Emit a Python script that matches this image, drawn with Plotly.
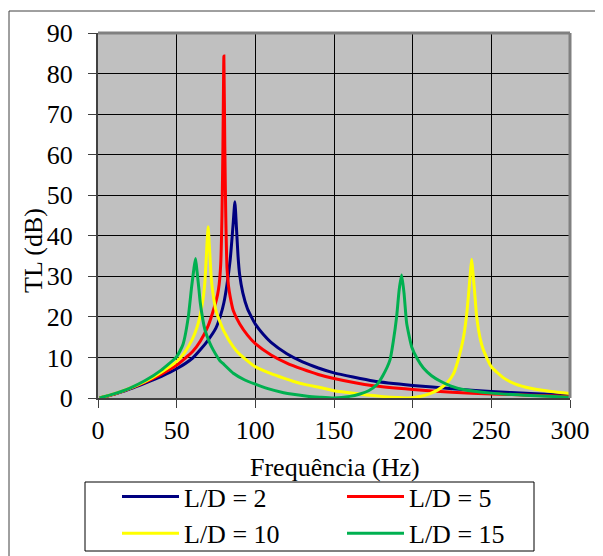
import plotly.graph_objects as go

# ---- data ----
series_names = ["L/D = 2", "L/D = 5", "L/D = 10", "L/D = 15"]
series_colors = ["#000080", "#FF0000", "#FFFF00", "#00B050"]

f_ld2 = [1, 10, 20, 30, 40, 50, 60, 65, 70, 75, 78, 80, 82, 84, 85, 86, 87, 88, 89, 90,
         92, 95, 97.5, 100, 105, 110, 120, 130, 140, 150, 175, 200, 225, 250, 275, 300]
tl_ld2 = [0, 0.9, 2.2, 3.7, 5.3, 7.2, 9.8, 11.9, 14.3, 17.3, 20.5, 23.5, 28, 34, 38.5, 43.5, 48.4, 42, 35, 30.5,
          26, 22, 20, 18.2, 15.7, 13.7, 10.9, 8.9, 7.4, 6.2, 4.2, 3.1, 2.3, 1.6, 1.1, 0.7]

f_ld5 = [1, 10, 20, 30, 40, 50, 60, 65, 70, 74, 76, 77, 78, 78.8, 79.4, 80, 80.6, 81.2, 82, 83,
         84, 86, 90, 95, 100, 110, 120, 130, 140, 150, 175, 200, 225, 250, 275, 300]
tl_ld5 = [0, 0.9, 2.3, 3.9, 5.8, 8.1, 11.4, 14, 17.8, 22.5, 25.5, 28, 33, 45, 62, 84.3, 62, 45, 32, 27.5,
          25, 21.5, 18.3, 15.5, 13.4, 10.6, 8.6, 7.1, 5.8, 4.8, 3.0, 2.1, 1.4, 1.0, 0.7, 0.4]

f_ld10 = [1, 10, 20, 30, 40, 50, 55, 60, 63, 65, 67, 68, 69, 70, 71, 72, 73, 75, 78, 80,
          86, 90, 100, 110, 118, 125, 132, 141, 150, 166, 180, 190, 197, 204, 211, 216, 222, 226, 229, 232,
          234, 235.5, 236.7, 237.5, 238.3, 239.3, 240.7, 243, 245, 250, 258, 265, 275, 288, 300]
tl_ld10 = [0, 1.0, 2.4, 4.1, 6.3, 9.0, 11.2, 14.5, 17.5, 20.5, 25, 29, 36, 42.2, 36, 29.5, 26, 21.5, 18.3, 16.5,
           12.6, 10.8, 7.7, 6.0, 4.9, 4.0, 3.3, 2.6, 1.8, 1.0, 0.4, 0.15, 0.0, 0.3, 1.1, 2.0, 3.8, 6.0, 9.5, 14.3,
           19.5, 25.5, 31, 34.2, 31, 26.5, 20, 14.5, 11.8, 7.7, 4.9, 3.5, 2.4, 1.6, 1.1]

f_ld15 = [1, 10, 20, 30, 40, 50, 54, 57.4, 59.5, 61, 62, 63, 64.2, 65, 68, 71, 73.3, 77.5, 80, 86,
          93, 100, 108, 118, 124, 133, 141, 150, 160, 166.5, 172, 177, 181, 185.6, 187.7, 189.8, 191.4, 193, 194.5, 196.2,
          199.4, 203, 206.8, 212, 217.4, 224, 232, 250, 275, 300]
tl_ld15 = [0, 1.0, 2.4, 4.3, 6.8, 10.2, 13.2, 20, 27.4, 32, 34.4, 31, 26.6, 23.5, 16.8, 13.6, 11.8, 9.2, 8.3, 6.1,
           4.5, 3.4, 2.3, 1.3, 0.9, 0.45, 0.2, 0.0, 0.4, 1.0, 1.8, 3.2, 5.5, 9.4, 14, 20, 26.6, 30.3, 25.9, 18.4,
           12.6, 9.6, 7.4, 5.5, 4.2, 3.0, 2.1, 1.2, 0.6, 0.2]

x_ticks = [0, 50, 100, 150, 200, 250, 300]
y_ticks = [0, 10, 20, 30, 40, 50, 60, 70, 80, 90]

all_f = [f_ld2, f_ld5, f_ld10, f_ld15]
all_tl = [tl_ld2, tl_ld5, tl_ld10, tl_ld15]

FONT = "Liberation Serif"

fig = go.Figure()
for name, color, fx, ty in zip(series_names, series_colors, all_f, all_tl):
    fig.add_trace(go.Scatter(x=fx, y=ty, mode="lines", name=name,
                             line=dict(color=color, width=3, shape="spline", smoothing=0.5)))

W, H = 603, 556
OFF = 8  # page body margin
L, T = 90, 25
R, B = W - 562, H - 390
pw, ph = W - L - R, H - T - B


def px(sx):
    return (sx - OFF - L) / pw


def py(sy):
    return (H - B - (sy - OFF)) / ph


fig.update_layout(
    width=W, height=H,
    margin=dict(l=L, r=R, t=T, b=B, autoexpand=False),
    paper_bgcolor="white",
    plot_bgcolor="#C0C0C0",
    font=dict(family=FONT, size=26, color="black"),
    showlegend=True,
    legend=dict(
        orientation="h", x=px(117), y=py(473), xanchor="left", yanchor="top",
        bgcolor="rgba(0,0,0,0)", borderwidth=0,
        entrywidth=153, entrywidthmode="pixels", itemwidth=57,
        font=dict(family=FONT, size=26, color="black"),
        traceorder="normal",
    ),
    xaxis=dict(range=[0, 300], tickvals=x_ticks, ticktext=[str(v) for v in x_ticks],
               showgrid=True, gridcolor="black", gridwidth=1,
               showline=True, linecolor="#404040", linewidth=2,
               ticks="outside", ticklen=8, tickcolor="#404040", tickwidth=1,
               ticklabelstandoff=0, zeroline=False,
               tickfont=dict(family=FONT, size=26)),
    yaxis=dict(range=[0, 90], tickvals=y_ticks, ticktext=[str(v) for v in y_ticks],
               showgrid=True, gridcolor="black", gridwidth=1,
               showline=True, linecolor="#404040", linewidth=2,
               ticks="outside", ticklen=8, tickcolor="#404040", tickwidth=1,
               ticklabelstandoff=10, zeroline=False,
               tickfont=dict(family=FONT, size=26)),
    annotations=[
        dict(text="TL (dB)", xref="paper", yref="paper", x=px(33), y=py(251),
             textangle=-90, showarrow=False, xanchor="center", yanchor="middle",
             font=dict(family=FONT, size=26)),
        dict(text="Frequência (Hz)", xref="paper", yref="paper", x=px(335), y=py(467),
             showarrow=False, xanchor="center", yanchor="middle",
             font=dict(family=FONT, size=26)),
    ],
    shapes=[
        # outer chart border (top/left visible)
        dict(type="rect", xref="paper", yref="paper", x0=px(9), x1=px(612), y0=py(590), y1=py(11),
             line=dict(color="#404040", width=1), fillcolor="rgba(0,0,0,0)", layer="below"),
        # plot area top/right gray border
        dict(type="line", xref="paper", yref="paper", x0=0, x1=1, y0=1, y1=1,
             line=dict(color="#808080", width=3), layer="above"),
        dict(type="line", xref="paper", yref="paper", x0=1, x1=1, y0=0, y1=1,
             line=dict(color="#808080", width=3), layer="above"),
        # legend box
        dict(type="rect", xref="paper", yref="paper", x0=px(85), x1=px(534), y0=py(551), y1=py(482),
             line=dict(color="black", width=1), fillcolor="white", layer="above"),
    ],
)

fig.write_html("out.html")
